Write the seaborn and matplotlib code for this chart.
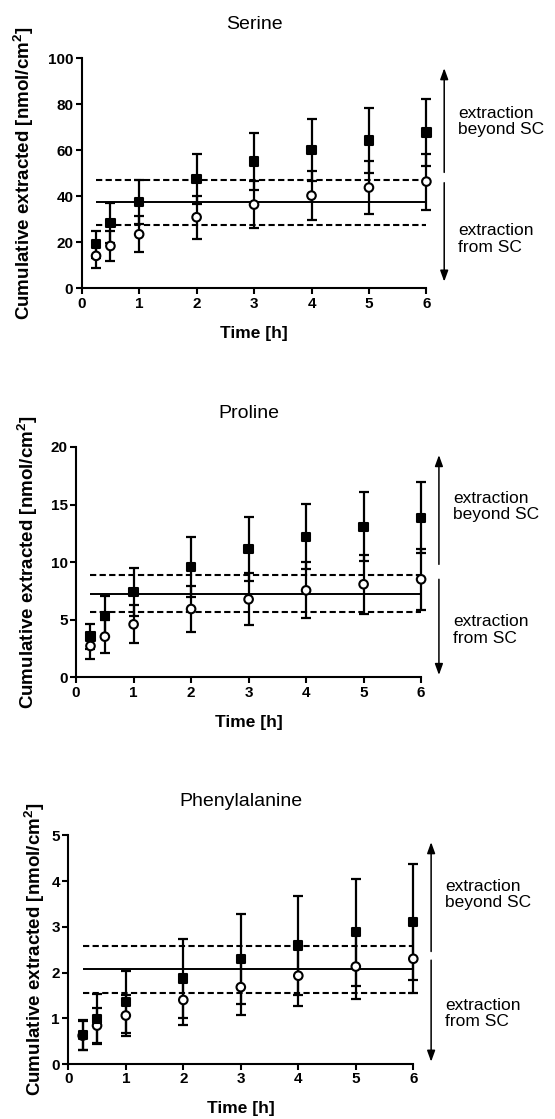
import numpy as np
import pandas as pd
import matplotlib
matplotlib.use("Agg")
import matplotlib.pyplot as plt
import seaborn as sns

# ---------------- data ----------------
time_h = [0.25, 0.5, 1, 2, 3, 4, 5, 6]

# Serine
ser_total = [19.2, 28.5, 37.5, 47.5, 55.1, 60.2, 64.3, 67.7]
ser_total_sd = [5.9, 8.6, 9.5, 11.0, 12.5, 13.5, 14.1, 14.7]
ser_sc = [14.1, 18.4, 23.5, 30.9, 36.4, 40.3, 43.8, 46.4]
ser_sc_sd = [5.1, 6.5, 7.8, 9.4, 10.3, 10.7, 11.6, 12.2]
ser_lines = [37.4, 47.1, 27.4]          # mean, upper, lower

# Proline
pro_total = [3.53, 5.35, 7.41, 9.58, 11.14, 12.21, 13.08, 13.86]
pro_total_sd = [1.10, 1.74, 2.05, 2.58, 2.75, 2.81, 2.98, 3.07]
pro_sc = [2.72, 3.53, 4.60, 5.93, 6.77, 7.55, 8.08, 8.51]
pro_sc_sd = [1.13, 1.42, 1.65, 1.96, 2.25, 2.43, 2.55, 2.66]
pro_lines = [7.24, 8.86, 5.64]

# Phenylalanine
phe_total = [0.63, 0.98, 1.35, 1.87, 2.29, 2.59, 2.88, 3.11]
phe_total_sd = [0.33, 0.54, 0.68, 0.86, 0.98, 1.09, 1.17, 1.27]
phe_sc = [0.62, 0.84, 1.06, 1.40, 1.68, 1.93, 2.13, 2.30]
phe_sc_sd = [0.31, 0.38, 0.45, 0.55, 0.61, 0.66, 0.71, 0.74]
phe_lines = [2.07, 2.58, 1.56]

titles = ["Serine", "Proline", "Phenylalanine"]
yticks = [[0, 20, 40, 60, 80, 100], [0, 5, 10, 15, 20], [0, 1, 2, 3, 4, 5]]
xticks = [0, 1, 2, 3, 4, 5, 6]
ylabel = r"Cumulative extracted [nmol/cm$^\mathbf{2}$]"
xlabel = "Time [h]"
note_top = "extraction\nbeyond SC"
note_bottom = "extraction\nfrom SC"

# ---------------- style ----------------
sns.set_theme(style="ticks")
plt.rcParams["font.family"] = ["Liberation Sans", "DejaVu Sans"]
plt.rcParams["mathtext.fontset"] = "custom"
plt.rcParams["mathtext.rm"] = "Liberation Sans"
plt.rcParams["mathtext.bf"] = "Liberation Sans:bold"
plt.rcParams["axes.linewidth"] = 1.5
for key in ("text.color", "axes.labelcolor", "xtick.color", "ytick.color",
            "axes.edgecolor", "xtick.labelcolor", "ytick.labelcolor"):
    plt.rcParams[key] = "black"

W, H = 555, 1119
fig = plt.figure(figsize=(W / 100, H / 100), dpi=100)

# layout (pixels): left, right(x=6), top(ymax), bottom(y=0)
boxes = [(81.7, 426.4, 58.3, 288.3),
         (76.1, 421.1, 447.0, 677.3),
         (68.3, 413.3, 835.3, 1064.0)]
ylabel_x_px = [24, 28, 35]
arrow_y = [[95.7, 50.4, 45.9, 2.9],
           [19.3, 9.81, 8.51, 0.2],
           [4.85, 2.46, 2.27, 0.05]]
note_y = [[72.5, 21.4], [14.8, 4.1], [3.70, 1.11]]

datasets = [
    (ser_total, ser_total_sd, ser_sc, ser_sc_sd, ser_lines),
    (pro_total, pro_total_sd, pro_sc, pro_sc_sd, pro_lines),
    (phe_total, phe_total_sd, phe_sc, phe_sc_sd, phe_lines),
]

for i, (tot, tot_sd, sc, sc_sd, lines) in enumerate(datasets):
    l, r, t, b = boxes[i]
    ax = fig.add_axes([l / W, 1 - b / H, (r - l) / W, (b - t) / H])
    ymax = yticks[i][-1]
    ax.set_xlim(0, 6)
    ax.set_ylim(0, ymax)

    # reference lines
    ax.hlines(lines[0], 0.25, 6, colors="black", linewidth=1.4, zorder=2)
    ax.hlines(lines[1:], 0.25, 6, colors="black", linewidth=1.5,
              linestyles=(0, (3, 1.6)), zorder=2)

    # error bars
    ax.errorbar(time_h, sc, yerr=sc_sd, fmt="none", ecolor="black",
                elinewidth=1.6, capsize=3.3, capthick=1.6, clip_on=False, zorder=3)
    ax.errorbar(time_h, tot, yerr=tot_sd, fmt="none", ecolor="black",
                elinewidth=1.6, capsize=3.3, capthick=1.6, clip_on=False, zorder=3)

    df = pd.DataFrame({
        "time": list(time_h) * 2,
        "value": list(sc) + list(tot),
        "series": ["sc"] * len(time_h) + ["total"] * len(time_h),
    })
    sns.scatterplot(data=df, x="time", y="value", hue="series", style="series",
                    size="series",
                    markers={"sc": "o", "total": "s"},
                    palette={"sc": "white", "total": "black"},
                    sizes={"sc": 38, "total": 36},
                    edgecolor="black", linewidth=1.5, legend=False,
                    ax=ax, zorder=4, clip_on=False)

    # arrows and notes
    ax_x = 6.31
    ya = arrow_y[i]
    for tip, start in [(ya[0], ya[1]), (ya[3], ya[2])]:
        ax.annotate("", xy=(ax_x, tip), xytext=(ax_x, start),
                    arrowprops=dict(arrowstyle="-|>,head_length=0.55,head_width=0.2",
                                    color="black", lw=1.1, shrinkA=0, shrinkB=0),
                    annotation_clip=False)
    ax.text(6.555, note_y[i][0], note_top, ha="left", va="center",
            fontsize=12.5, linespacing=1.1, clip_on=False, color="black")
    ax.text(6.555, note_y[i][1], note_bottom, ha="left", va="center",
            fontsize=12.5, linespacing=1.1, clip_on=False, color="black")

    # axes cosmetics
    ax.set_xticks(xticks)
    ax.set_yticks(yticks[i])
    ax.tick_params(direction="out", length=4, width=1.5, labelsize=11, pad=2,
                   colors="black")
    for lab in ax.get_xticklabels() + ax.get_yticklabels():
        lab.set_fontweight("bold")
    sns.despine(ax=ax)
    for s in ("left", "bottom"):
        ax.spines[s].set_linewidth(1.5)
        ax.spines[s].set_color("black")

    ax.set_title(titles[i], fontsize=14, fontweight="normal",
                 y=1 + 33.5 / (b - t), pad=0, va="center", color="black")
    ax.set_xlabel(xlabel, fontsize=12.5, fontweight="bold", va="center",
                  color="black")
    ax.xaxis.set_label_coords(0.5, -45 / (b - t))
    ax.set_ylabel(ylabel, fontsize=13.5, fontweight="bold", va="center",
                  color="black")
    ax.yaxis.set_label_coords(-(l - ylabel_x_px[i]) / (r - l), 0.5)

fig.savefig("out.png", dpi=100, facecolor="white")
